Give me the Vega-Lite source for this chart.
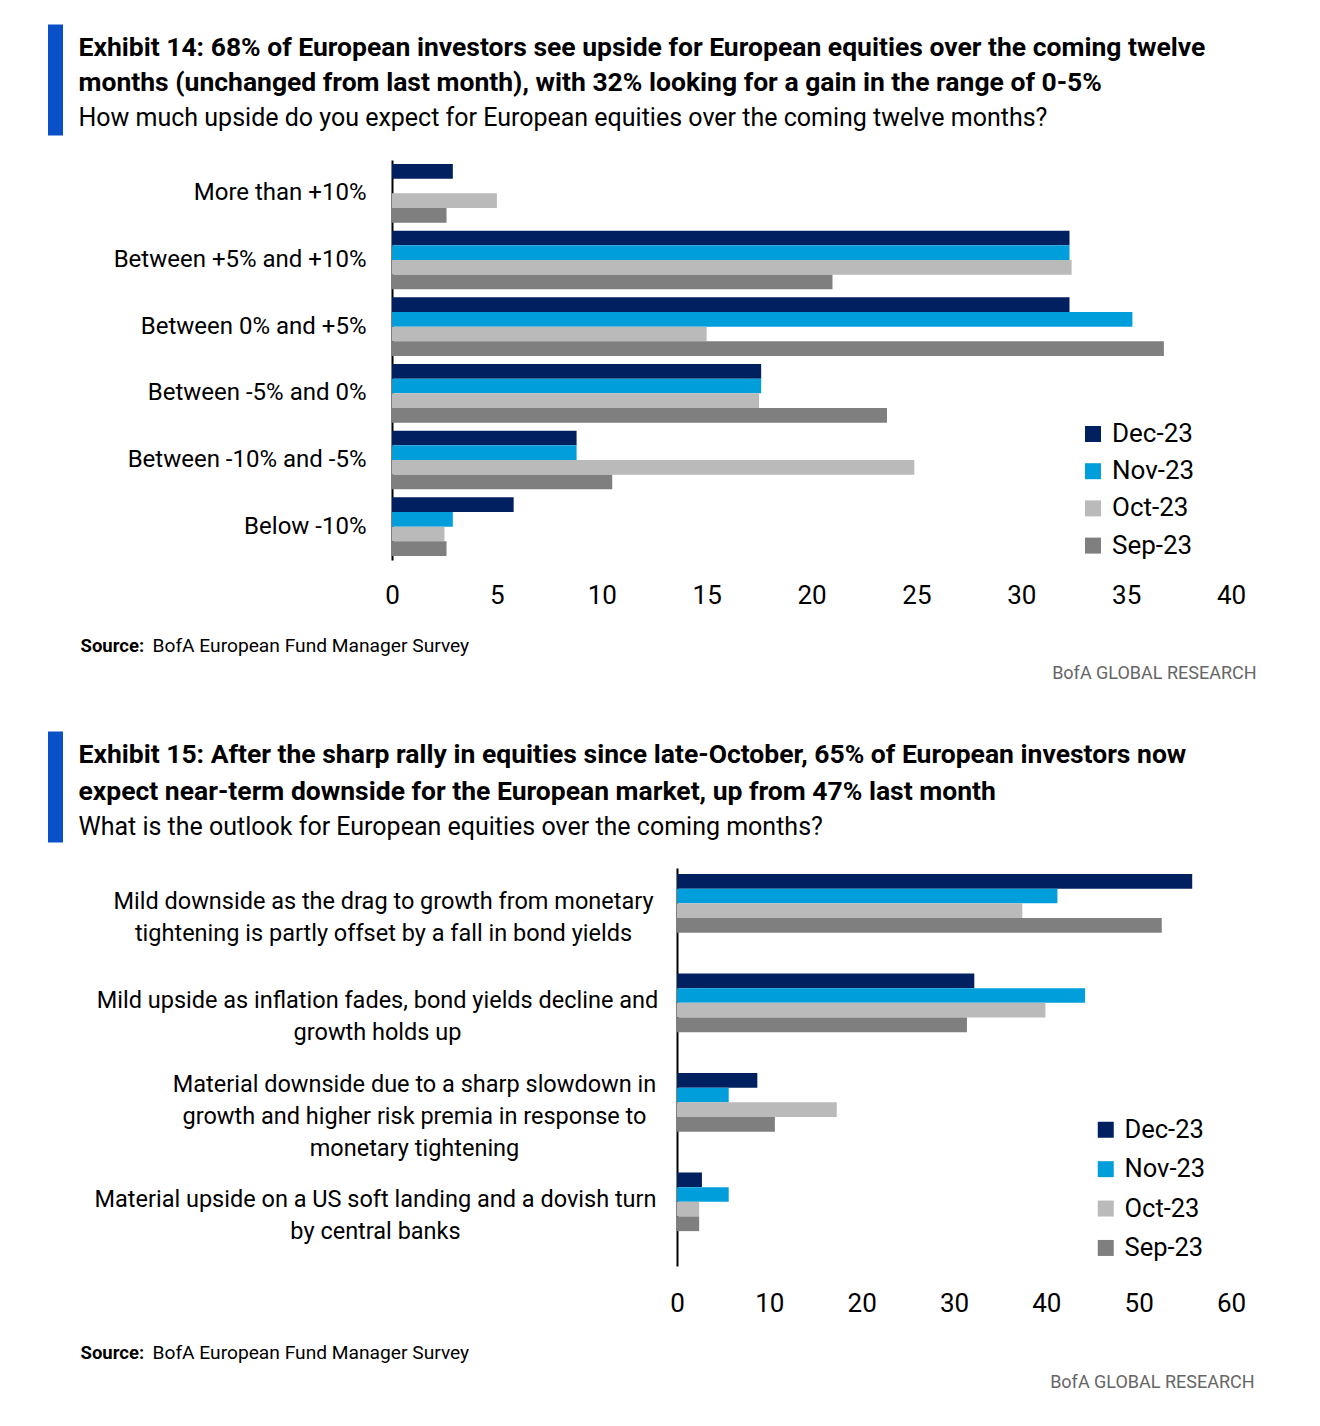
{
  "$schema": "https://vega.github.io/schema/vega-lite/v6.json",
  "background": "white",
  "padding": {"left": 54, "top": 24, "right": 0, "bottom": 0},
  "config": {
    "view": {"stroke": null},
    "font": "Roboto, Liberation Sans, sans-serif"
  },
  "datasets": {
    "upside": [
      {"category": "More than +10%", "series": "Dec-23", "value": 2.9},
      {"category": "More than +10%", "series": "Nov-23", "value": 0},
      {"category": "More than +10%", "series": "Oct-23", "value": 5.0},
      {"category": "More than +10%", "series": "Sep-23", "value": 2.6},
      {"category": "Between +5% and +10%", "series": "Dec-23", "value": 32.3},
      {"category": "Between +5% and +10%", "series": "Nov-23", "value": 32.3},
      {"category": "Between +5% and +10%", "series": "Oct-23", "value": 32.4},
      {"category": "Between +5% and +10%", "series": "Sep-23", "value": 21.0},
      {"category": "Between 0% and +5%", "series": "Dec-23", "value": 32.3},
      {"category": "Between 0% and +5%", "series": "Nov-23", "value": 35.3},
      {"category": "Between 0% and +5%", "series": "Oct-23", "value": 15.0},
      {"category": "Between 0% and +5%", "series": "Sep-23", "value": 36.8},
      {"category": "Between -5% and 0%", "series": "Dec-23", "value": 17.6},
      {"category": "Between -5% and 0%", "series": "Nov-23", "value": 17.6},
      {"category": "Between -5% and 0%", "series": "Oct-23", "value": 17.5},
      {"category": "Between -5% and 0%", "series": "Sep-23", "value": 23.6},
      {"category": "Between -10% and -5%", "series": "Dec-23", "value": 8.8},
      {"category": "Between -10% and -5%", "series": "Nov-23", "value": 8.8},
      {"category": "Between -10% and -5%", "series": "Oct-23", "value": 24.9},
      {"category": "Between -10% and -5%", "series": "Sep-23", "value": 10.5},
      {"category": "Below -10%", "series": "Dec-23", "value": 5.8},
      {"category": "Below -10%", "series": "Nov-23", "value": 2.9},
      {"category": "Below -10%", "series": "Oct-23", "value": 2.5},
      {"category": "Below -10%", "series": "Sep-23", "value": 2.6}
    ],
    "outlook": [
      {"category": "Mild downside as the drag to growth from monetary\ntightening is partly offset by a fall in bond yields", "series": "Dec-23", "value": 55.8},
      {"category": "Mild downside as the drag to growth from monetary\ntightening is partly offset by a fall in bond yields", "series": "Nov-23", "value": 41.2},
      {"category": "Mild downside as the drag to growth from monetary\ntightening is partly offset by a fall in bond yields", "series": "Oct-23", "value": 37.4},
      {"category": "Mild downside as the drag to growth from monetary\ntightening is partly offset by a fall in bond yields", "series": "Sep-23", "value": 52.5},
      {"category": "Mild upside as inflation fades, bond yields decline and\ngrowth holds up", "series": "Dec-23", "value": 32.2},
      {"category": "Mild upside as inflation fades, bond yields decline and\ngrowth holds up", "series": "Nov-23", "value": 44.2},
      {"category": "Mild upside as inflation fades, bond yields decline and\ngrowth holds up", "series": "Oct-23", "value": 39.9},
      {"category": "Mild upside as inflation fades, bond yields decline and\ngrowth holds up", "series": "Sep-23", "value": 31.4},
      {"category": "Material downside due to a sharp slowdown in\ngrowth and higher risk premia in response to\nmonetary tightening", "series": "Dec-23", "value": 8.7},
      {"category": "Material downside due to a sharp slowdown in\ngrowth and higher risk premia in response to\nmonetary tightening", "series": "Nov-23", "value": 5.6},
      {"category": "Material downside due to a sharp slowdown in\ngrowth and higher risk premia in response to\nmonetary tightening", "series": "Oct-23", "value": 17.3},
      {"category": "Material downside due to a sharp slowdown in\ngrowth and higher risk premia in response to\nmonetary tightening", "series": "Sep-23", "value": 10.6},
      {"category": "Material upside on a US soft landing and a dovish turn\nby central banks", "series": "Dec-23", "value": 2.7},
      {"category": "Material upside on a US soft landing and a dovish turn\nby central banks", "series": "Nov-23", "value": 5.6},
      {"category": "Material upside on a US soft landing and a dovish turn\nby central banks", "series": "Oct-23", "value": 2.4},
      {"category": "Material upside on a US soft landing and a dovish turn\nby central banks", "series": "Sep-23", "value": 2.4}
    ]
  },
  "spacing": 47,
  "resolve": {"scale": {"color": "independent"}, "legend": {"color": "independent"}},
  "vconcat": [
    {
      "spacing": 0,
      "resolve": {"scale": {"color": "independent"}, "legend": {"color": "independent"}},
      "hconcat": [
        {"width": 1, "height": 1, "data": {"values": [{}]}, "mark": {"type": "rect", "opacity": 0}},
        {
          "title": {"text": "BofA GLOBAL RESEARCH", "orient": "bottom", "anchor": "end", "frame": "bounds", "fontSize": 18, "fontWeight": "normal", "color": "#666666", "offset": 10, "dx": 11},
          "spacing": 25,
          "resolve": {"scale": {"color": "independent"}, "legend": {"color": "independent"}},
          "vconcat": [
            {
              "width": 839, "height": 111,
              "data": {"values": [{}]},
              "mark": {"type": "point", "opacity": 0},
              "encoding": {
                "x": {"datum": 0.5, "type": "quantitative", "scale": {"domain": [0, 1]},
                  "axis": {"labels": false, "ticks": false, "domain": false, "grid": false,
                    "title": "How much upside do you expect for European equities over the coming twelve months?",
                    "titleX": -314, "titleY": -18, "titleAlign": "left", "titleBaseline": "middle", "titleAngle": 0,
                    "titleFontSize": 25, "titleFontWeight": "normal", "titleColor": "black"}},
                "y": {"datum": 0.5, "type": "quantitative", "scale": {"domain": [0, 1]},
                  "axis": {"orient": "left", "offset": 337, "labels": false, "ticks": false, "grid": false,
                    "domain": true, "domainColor": "#0A50C8", "domainWidth": 15, "domainCap": "butt",
                    "title": ["Exhibit 14: 68% of European investors see upside for European equities over the coming twelve", "months (unchanged from last month), with 32% looking for a gain in the range of 0-5%"],
                    "titleX": 23, "titleY": 23, "titleAlign": "left", "titleBaseline": "middle", "titleAngle": 0, "titleLineHeight": 35,
                    "titleFontSize": 26.5, "titleFontWeight": "bold", "titleColor": "black"}}
              }
            },
            {
              "width": 839, "height": 400,
              "data": {"name": "upside"},
              "mark": {"type": "bar"},
              "encoding": {
                "y": {
                  "field": "category", "type": "nominal",
                  "sort": ["More than +10%", "Between +5% and +10%", "Between 0% and +5%", "Between -5% and 0%", "Between -10% and -5%", "Below -10%"],
                  "scale": {"paddingInner": 0.12, "paddingOuter": 0.06},
                  "axis": {
                    "title": "Source:", "titleAngle": 0, "titleAlign": "left", "titleBaseline": "middle",
                    "titleX": -312, "titleY": 485, "titleFontSize": 18.5, "titleFontWeight": "bold", "titleColor": "black",
                    "labelFontSize": 24, "labelColor": "black", "labelPadding": 26, "labelLimit": 600,
                    "ticks": false, "domainColor": "black", "domainWidth": 2
                  }
                },
                "yOffset": {"field": "series", "sort": ["Dec-23", "Nov-23", "Oct-23", "Sep-23"]},
                "x": {
                  "field": "value", "type": "quantitative",
                  "scale": {"domain": [0, 40]},
                  "axis": {
                    "values": [0, 5, 10, 15, 20, 25, 30, 35, 40],
                    "grid": false, "ticks": false, "domain": false, "labelFlush": false,
                    "labelFontSize": 26, "labelColor": "black", "labelPadding": 22,
                    "title": "BofA European Fund Manager Survey", "titleAnchor": "start", "titleAlign": "left",
                    "titleX": -240, "titleY": 85, "titleBaseline": "middle",
                    "titleFontSize": 19.2, "titleFontWeight": "normal", "titleColor": "black"
                  }
                },
                "color": {
                  "field": "series", "type": "nominal",
                  "scale": {"domain": ["Dec-23", "Nov-23", "Oct-23", "Sep-23"], "range": ["#002060", "#009FDB", "#BABABA", "#7F7F7F"]},
                  "legend": {
                    "orient": "none", "legendX": 688, "legendY": 261, "title": null,
                    "symbolType": "square", "symbolSize": 256, "symbolStrokeWidth": 0,
                    "labelFontSize": 26, "labelColor": "black", "labelOffset": 6, "rowPadding": 11.2
                  }
                }
              }
            }
          ]
        }
      ]
    },
    {
      "spacing": 0,
      "resolve": {"scale": {"color": "independent"}, "legend": {"color": "independent"}},
      "hconcat": [
        {"width": 1, "height": 1, "data": {"values": [{}]}, "mark": {"type": "rect", "opacity": 0}},
        {
          "title": {"text": "BofA GLOBAL RESEARCH", "orient": "bottom", "anchor": "end", "frame": "bounds", "fontSize": 18, "fontWeight": "normal", "color": "#666666", "offset": 12, "dx": 9},
          "spacing": 26,
          "resolve": {"scale": {"color": "independent"}, "legend": {"color": "independent"}},
          "vconcat": [
            {
              "width": 554, "height": 111,
              "data": {"values": [{}]},
              "mark": {"type": "point", "opacity": 0},
              "encoding": {
                "x": {"datum": 0.5, "type": "quantitative", "scale": {"domain": [0, 1]},
                  "axis": {"labels": false, "ticks": false, "domain": false, "grid": false,
                    "title": "What is the outlook for European equities over the coming months?",
                    "titleX": -599, "titleY": -16, "titleAlign": "left", "titleBaseline": "middle", "titleAngle": 0,
                    "titleFontSize": 25, "titleFontWeight": "normal", "titleColor": "black"}},
                "y": {"datum": 0.5, "type": "quantitative", "scale": {"domain": [0, 1]},
                  "axis": {"orient": "left", "offset": 622, "labels": false, "ticks": false, "grid": false,
                    "domain": true, "domainColor": "#0A50C8", "domainWidth": 15, "domainCap": "butt",
                    "title": ["Exhibit 15: After the sharp rally in equities since late-October, 65% of European investors now", "expect near-term downside for the European market, up from 47% last month"],
                    "titleX": 23, "titleY": 23, "titleAlign": "left", "titleBaseline": "middle", "titleAngle": 0, "titleLineHeight": 37,
                    "titleFontSize": 26.5, "titleFontWeight": "bold", "titleColor": "black"}}
              }
            },
            {
              "width": 554, "height": 398,
              "data": {"name": "outlook"},
              "mark": {"type": "bar"},
              "encoding": {
                "y": {
                  "field": "category", "type": "nominal",
                  "sort": null,
                  "scale": {"paddingInner": 0.12, "paddingOuter": 0.06},
                  "axis": {
                    "title": "Source:", "titleAngle": 0, "titleAlign": "left", "titleBaseline": "middle",
                    "titleX": -597, "titleY": 484, "titleFontSize": 18.5, "titleFontWeight": "bold", "titleColor": "black",
                    "labelExpr": "split(datum.label, '\\n')",
                    "labelAlign": "center", "labelFontSize": 23.5, "labelLineHeight": 32, "labelColor": "black", "labelLimit": 800,
                    "labelPadding": {"condition": [
                      {"test": "indexof(datum.value, 'Material downside') >= 0", "value": 263},
                      {"test": "indexof(datum.value, 'Mild upside') >= 0", "value": 300},
                      {"test": "indexof(datum.value, 'Material upside') >= 0", "value": 302}
                    ], "value": 294},
                    "labelOffset": {"condition": {"test": "indexof(datum.value, 'Material downside') >= 0", "value": -32}, "value": -16},
                    "ticks": false, "domainColor": "black", "domainWidth": 2
                  }
                },
                "yOffset": {"field": "series", "sort": ["Dec-23", "Nov-23", "Oct-23", "Sep-23"]},
                "x": {
                  "field": "value", "type": "quantitative",
                  "scale": {"domain": [0, 60]},
                  "axis": {
                    "values": [0, 10, 20, 30, 40, 50, 60],
                    "grid": false, "ticks": false, "domain": false, "labelFlush": false,
                    "labelFontSize": 26, "labelColor": "black", "labelPadding": 24,
                    "title": "BofA European Fund Manager Survey", "titleAnchor": "start", "titleAlign": "left",
                    "titleX": -525, "titleY": 86, "titleBaseline": "middle",
                    "titleFontSize": 19.2, "titleFontWeight": "normal", "titleColor": "black"
                  }
                },
                "color": {
                  "field": "series", "type": "nominal",
                  "scale": {"domain": ["Dec-23", "Nov-23", "Oct-23", "Sep-23"], "range": ["#002060", "#009FDB", "#BABABA", "#7F7F7F"]},
                  "legend": {
                    "orient": "none", "legendX": 416, "legendY": 249, "title": null,
                    "symbolType": "square", "symbolSize": 256, "symbolStrokeWidth": 0,
                    "labelFontSize": 25.5, "labelColor": "black", "labelOffset": 6, "rowPadding": 12.4
                  }
                }
              }
            }
          ]
        }
      ]
    }
  ]
}
